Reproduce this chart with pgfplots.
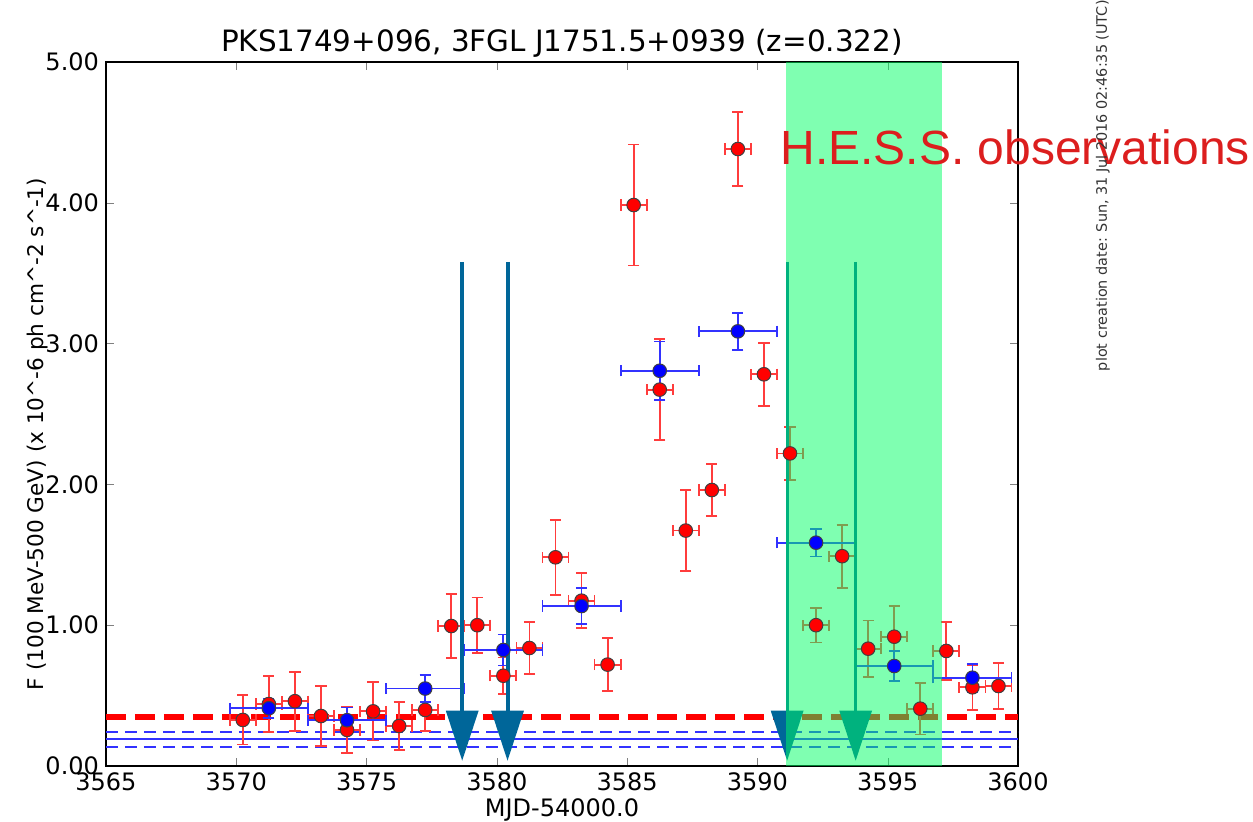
\documentclass[border=0pt]{standalone}
\usepackage{pgfplots}
\pgfplotsset{compat=1.18}
\usepackage{pgfplotstable}
\usepackage{fontspec}
\setmainfont{DejaVu Sans}
\newfontfamily\lib{Liberation Sans}
\definecolor{arrowc}{RGB}{0,102,153}
\definecolor{hessg}{RGB}{0,255,100}
\definecolor{hessred}{RGB}{220,30,30}
\definecolor{ebred}{RGB}{255,60,60}
\definecolor{ebblue}{RGB}{50,50,255}

\pgfplotstableread{
x y ex ey
3570.25 0.327 0.5 0.175
3571.25 0.44 0.5 0.20
3572.25 0.46 0.5 0.21
3573.25 0.355 0.5 0.215
3574.25 0.256 0.5 0.163
3575.25 0.388 0.5 0.207
3576.25 0.284 0.5 0.17
3577.25 0.398 0.5 0.15
3578.25 0.994 0.5 0.225
3579.25 1.00 0.5 0.197
3580.25 0.641 0.5 0.13
3581.25 0.838 0.5 0.183
3582.25 1.482 0.5 0.266
3583.25 1.174 0.5 0.194
3584.25 0.72 0.5 0.19
3585.25 3.984 0.5 0.43
3586.25 2.673 0.5 0.357
3587.25 1.672 0.5 0.287
3588.25 1.96 0.5 0.184
3589.25 4.382 0.5 0.26
3590.25 2.782 0.5 0.225
3591.25 2.22 0.5 0.19
3592.25 1.0 0.5 0.123
3593.25 1.49 0.5 0.224
3594.25 0.833 0.5 0.2
3595.25 0.918 0.5 0.22
3596.25 0.407 0.5 0.183
3597.25 0.817 0.5 0.206
3598.25 0.559 0.5 0.16
3599.25 0.568 0.5 0.163
}\reddata

\pgfplotstableread{
x y ex ey
3571.25 0.41 1.5 0.07
3574.25 0.325 1.5 0.09
3577.25 0.55 1.5 0.095
3580.25 0.824 1.5 0.11
3583.25 1.136 1.5 0.127
3586.25 2.807 1.5 0.208
3589.25 3.087 1.5 0.13
3592.25 1.586 1.5 0.098
3595.25 0.71 1.5 0.107
3598.25 0.627 1.5 0.10
}\bluedata

\begin{document}
\begin{tikzpicture}
\begin{axis}[
  at={(0,0)}, anchor=south west,
  scale only axis, width=456pt, height=352pt,
  xmin=3565, xmax=3600, ymin=0, ymax=5,
  xtick={3565,3570,...,3600}, ytick={0,1,2,3,4,5},
  tick align=inside, major tick length=4pt,
  scaled x ticks=false, scaled y ticks=false,
  xticklabel style={/pgf/number format/1000 sep={}},
  yticklabel style={/pgf/number format/.cd, fixed, fixed zerofill, precision=2},
  /pgf/number format/assume math mode=true,
  ticklabel style={font=\fontsize{12}{14}\selectfont},
  xlabel={MJD-54000.0}, xlabel style={font=\fontsize{12}{14}\selectfont, yshift=3pt},
  ylabel={F (100 MeV-500 GeV) (x 10\textasciicircum{}-6 ph cm\textasciicircum{}-2 s\textasciicircum{}-1)},
  ylabel style={font=\fontsize{10.8}{12}\selectfont, xshift=-10pt, yshift=-8pt},
  title={PKS1749+096, 3FGL J1751.5+0939 (z=0.322)},
  title style={font=\fontsize{14.7}{17}\selectfont, yshift=-7pt},
  axis line style={line width=0.7pt},
  clip=false,
  error bars/error bar style={line width=0.9pt},
]
% horizontal reference lines
\addplot[ebblue, line width=1pt] coordinates {(3565,0.19) (3600,0.19)};
\addplot[ebblue, line width=1pt, dash pattern=on 6pt off 3.5pt] coordinates {(3565,0.24) (3600,0.24)};
\addplot[ebblue, line width=1pt, dash pattern=on 6pt off 3.5pt] coordinates {(3565,0.137) (3600,0.137)};
\addplot[red, line width=3pt, dash pattern=on 10pt off 4.5pt] coordinates {(3565,0.35) (3600,0.35)};

% red daily points
\addplot[only marks, mark=*, mark size=3.4pt,
  mark options={fill=red, draw=black!75, line width=0.5pt},
  error bars/.cd, x dir=both, x explicit, y dir=both, y explicit,
  error bar style={ebred, line width=0.9pt},
  error mark options={rotate=90, ebred, mark size=2.8pt, line width=0.9pt}]
  table[x=x, y=y, x error=ex, y error=ey] {\reddata};

% blue 3-day points
\addplot[only marks, mark=*, mark size=3.4pt,
  mark options={fill=blue, draw=black!75, line width=0.5pt},
  error bars/.cd, x dir=both, x explicit, y dir=both, y explicit,
  error bar style={ebblue, line width=0.9pt},
  error mark options={rotate=90, ebblue, mark size=2.8pt, line width=0.9pt}]
  table[x=x, y=y, x error=ex, y error=ey] {\bluedata};

% arrows
\addplot[arrowc, line width=2pt] coordinates {(3578.67,3.58) (3578.67,0.39)};
\addplot[fill=arrowc, draw=none] coordinates {(3578.04,0.393) (3579.30,0.393) (3578.67,0.038)} -- cycle;
\addplot[arrowc, line width=2pt] coordinates {(3580.41,3.58) (3580.41,0.39)};
\addplot[fill=arrowc, draw=none] coordinates {(3579.78,0.393) (3581.04,0.393) (3580.41,0.038)} -- cycle;
\addplot[arrowc, line width=1.5pt] coordinates {(3591.14,3.58) (3591.14,0.39)};
\addplot[fill=arrowc, draw=none] coordinates {(3590.51,0.393) (3591.77,0.393) (3591.14,0.038)} -- cycle;
\addplot[arrowc, line width=1.5pt] coordinates {(3593.77,3.58) (3593.77,0.39)};
\addplot[fill=arrowc, draw=none] coordinates {(3593.14,0.393) (3594.40,0.393) (3593.77,0.038)} -- cycle;

% H.E.S.S. observation window
\addplot[fill=hessg, fill opacity=0.5, draw=none] coordinates {(3591.09,0) (3597.08,0) (3597.08,5) (3591.09,5)} -- cycle;
\end{axis}
\node[anchor=west, inner sep=0pt, text=hessred, font=\lib\fontsize{24}{28}\selectfont] at (337pt,309.5pt) {H.E.S.S. observations};
\node[rotate=90, anchor=east, inner sep=0pt, text=black!80, font=\fontsize{7.2}{8.5}\selectfont] at (498.5pt,383pt) {plot creation date: Sun, 31 Jul 2016 02:46:35 (UTC)};
\pgfresetboundingbox
\path[use as bounding box] (-53pt,-28pt) rectangle (573.5pt,383pt);
\end{tikzpicture}
\end{document}
